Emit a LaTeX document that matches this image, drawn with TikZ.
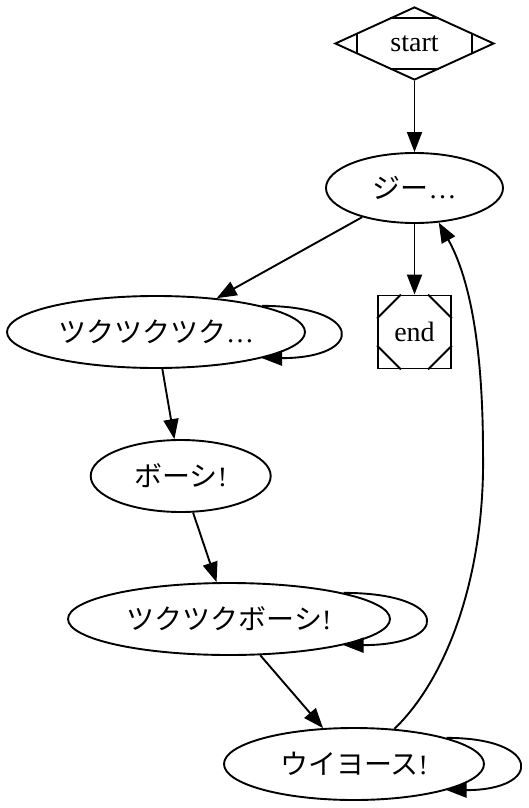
\documentclass[tikz,border=0pt]{standalone}
\usepackage{fontspec}
\setmainfont{Liberation Serif}
\newfontfamily\jp{Noto Sans CJK JP}
\usetikzlibrary{shapes.geometric,arrows.meta,calc}
\begin{document}
\begin{tikzpicture}[x=1pt,y=-1pt,line width=1.9pt,
  font=\fontsize{28}{32}\selectfont,
  ell/.style={draw,ellipse,inner sep=0pt,minimum height=72pt},
  edge/.style={-{Triangle[length=20pt,width=15pt]}}]
\useasboundingbox (0,0) rectangle (528,808);
\node[draw,diamond,aspect=2.18,inner sep=0pt,minimum width=159pt,minimum height=73pt] (start) at (414.5,43.5) {start};
\node[ell,minimum width=177pt,minimum height=70pt] (jii) at (414.5,188) {{\jp ジー}…};
\node[draw,rectangle,inner sep=0pt,minimum size=73pt] (end) at (414.5,332) {end};
\node[ell,minimum width=298pt] (tk1) at (156,332) {{\jp ツクツクツク}…};
\node[ell,minimum width=180pt] (bo) at (180.7,476) {{\jp ボーシ}!};
\node[ell,minimum width=322pt] (tkb) at (229,619) {{\jp ツクツクボーシ}!};
\node[ell,minimum width=260pt] (ui) at (354,764) {{\jp ウイヨース}!};
% Mdiamond marks
\draw ($(start.north)!0.31!(start.west)$) -- ($(start.north)!0.31!(start.east)$);
\draw ($(start.south)!0.31!(start.west)$) -- ($(start.south)!0.31!(start.east)$);
\draw ($(start.west)!0.28!(start.north)$) -- ($(start.west)!0.28!(start.south)$);
\draw ($(start.east)!0.28!(start.north)$) -- ($(start.east)!0.28!(start.south)$);
% Msquare marks
\draw ($(end.north west)!0.32!(end.south west)$) -- ($(end.north west)!0.32!(end.north east)$);
\draw ($(end.north east)!0.32!(end.south east)$) -- ($(end.north east)!0.32!(end.north west)$);
\draw ($(end.south west)!0.32!(end.north west)$) -- ($(end.south west)!0.32!(end.south east)$);
\draw ($(end.south east)!0.32!(end.north east)$) -- ($(end.south east)!0.32!(end.south west)$);
% edges
\draw[edge] (start) -- (jii);
\draw[edge] (jii) -- (end);
\draw[edge] (jii) -- (tk1);
\draw[edge] (tk1) -- (bo);
\draw[edge] (bo) -- (tkb);
\draw[edge] (tkb) -- (ui);
\draw[edge] (tk1.north east) .. controls +(103,0) and +(103,0) .. (tk1.south east);
\draw[edge] (tkb.north east) .. controls +(108,0) and +(108,0) .. (tkb.south east);
\draw[edge] (ui.north east) .. controls +(96,0) and +(96,0) .. (ui.south east);
\coordinate (bend) at (483,453);
\draw[edge] (ui.41) .. controls (450,675) and (485,570) .. (bend) .. controls (483,340) and (468,275) .. (jii.-55);
\end{tikzpicture}
\end{document}
